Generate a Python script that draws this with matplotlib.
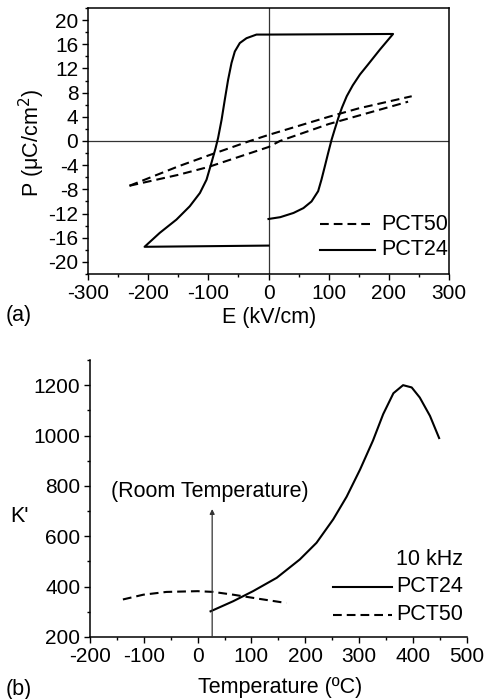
import matplotlib
matplotlib.use("Agg")
import matplotlib.pyplot as plt
from matplotlib.ticker import MultipleLocator

plt.rcParams['font.family'] = ['Liberation Sans', 'DejaVu Sans']
plt.rcParams['axes.unicode_minus'] = False

# ---- (a) hysteresis data ----
pct24_E = [0, 19.5, 41.6, 58, 71.5, 82.5, 88, 93.6, 99.1, 104.8, 110, 116, 122, 130, 140, 152, 165, 185, 207,
           0, -20, -36.6, -47.7, -56, -61.5, -67.2, -72.7, -78, -83.8, -88, -94.8, -103,
           -114, -130.9, -153, -180.8, -206, 0]
pct24_P = [-12.9, -12.6, -11.9, -11.1, -10.0, -8.3, -6.4, -4.2, -2.0, 0.2, 1.9, 3.8, 5.5, 7.4, 9.2, 11.0, 12.6, 15.1, 17.7,
           17.6, 17.6, 17.0, 16.2, 14.8, 12.9, 10.1, 6.8, 3.5, 0.5, -1.2, -3.6, -6.4,
           -8.6, -10.8, -13.0, -15.2, -17.5, -17.3]

pct50_up_E = [-231, -150, -100, -31, 0, 100, 150, 238]
pct50_up_P = [-7.4, -4.2, -2.4, 0.0, 1.0, 4.0, 5.4, 7.4]
pct50_lo_E = [-231, -150, -100, 0, 19, 100, 150, 232]
pct50_lo_P = [-7.4, -5.6, -4.3, -1.0, 0.0, 2.8, 4.2, 6.5]

# ---- (b) dielectric data ----
pct24_T = [24, 66, 103, 147, 190, 221, 252, 277, 302, 326, 345, 364, 382, 398, 413, 432, 449]
pct24_K = [302, 342, 382, 435, 508, 574, 667, 757, 865, 980, 1085, 1168, 1200, 1191, 1151, 1078, 990]
pct50_T = [-139, -101, -58, 0, 29, 66, 116, 165]
pct50_K = [349, 368, 379, 382, 379, 368, 351, 335]
room_T = 27

fig = plt.figure(figsize=(4.87, 6.99), dpi=100)
fs = 15
ft = 15.5
lw = 1.5
dash = (4.2, 2.4)

# ---------- top panel ----------
ax1 = fig.add_axes([0.1807, 0.608, 0.922 - 0.1807, 0.9886 - 0.608])
ax1.axhline(0, color='#333333', lw=0.9, zorder=1)
ax1.axvline(0, color='#333333', lw=0.9, zorder=1)
ax1.plot(pct50_up_E, pct50_up_P, color='black', lw=lw, dashes=dash)
ax1.plot(pct50_lo_E, pct50_lo_P, color='black', lw=lw, dashes=dash)
ax1.plot(pct24_E, pct24_P, color='black', lw=lw)
ax1.set_xlim(-300, 300)
ax1.set_ylim(-22, 22)
ax1.xaxis.set_major_locator(MultipleLocator(100))
ax1.xaxis.set_minor_locator(MultipleLocator(50))
ax1.yaxis.set_major_locator(MultipleLocator(4))
ax1.yaxis.set_minor_locator(MultipleLocator(2))
ax1.tick_params(which='both', direction='out', labelsize=fs, width=1)
ax1.tick_params(which='major', length=4)
ax1.tick_params(which='minor', length=2.5)
ax1.tick_params(axis='y', pad=3)
for s in ax1.spines.values():
    s.set_linewidth(1.1)
fig.text(269 / 487, 1 - 317 / 699, 'E (kV/cm)', fontsize=ft, ha='center', va='center')
fig.text(32 / 487, 1 - 143 / 699, 'P (\u03bcC/cm$^2$)', fontsize=ft, ha='center', va='center',
         rotation=90)
# legend drawn through data axes
ax1.plot([86, 177], [-13.8, -13.8], color='black', lw=lw, dashes=dash)
ax1.plot([86, 177], [-18, -18], color='black', lw=lw)
ax1.text(187, -13.8, 'PCT50', fontsize=ft, va='center', ha='left')
ax1.text(187, -18, 'PCT24', fontsize=ft, va='center', ha='left')
fig.text(6 / 487, 1 - 315 / 699, '(a)', fontsize=ft, va='center', ha='left')

# ---------- bottom panel ----------
ax2 = fig.add_axes([0.185, 0.0887, 0.958 - 0.185, 0.485 - 0.0887])
ax2.plot(pct24_T, pct24_K, color='black', lw=lw)
ax2.plot(pct50_T, pct50_K, color='black', lw=lw, dashes=dash)
ax2.annotate('', xy=(room_T, 708), xytext=(room_T, 200),
             arrowprops=dict(arrowstyle='-|>', color='#333333', lw=0.9,
                             mutation_scale=7, shrinkA=0, shrinkB=0))
ax2.text(23, 779, '(Room Temperature)', fontsize=ft, ha='center', va='center')
ax2.set_xlim(-200, 500)
ax2.set_ylim(200, 1300)
ax2.spines['top'].set_visible(False)
ax2.spines['right'].set_visible(False)
for s in ax2.spines.values():
    s.set_linewidth(1.1)
ax2.xaxis.set_major_locator(MultipleLocator(100))
ax2.xaxis.set_minor_locator(MultipleLocator(50))
ax2.yaxis.set_major_locator(MultipleLocator(200))
ax2.yaxis.set_minor_locator(MultipleLocator(100))
ax2.tick_params(which='both', direction='out', labelsize=fs, width=1)
ax2.tick_params(which='major', length=4)
ax2.tick_params(which='minor', length=2.5)
ax2.tick_params(axis='y', pad=3)
fig.text(280 / 487, 1 - 687 / 699, 'Temperature (\u00baC)', fontsize=ft, ha='center', va='center')
ax2.plot([252, 361], [399, 399], color='black', lw=lw)
ax2.plot([252, 361], [289, 289], color='black', lw=lw, dashes=dash)
ax2.text(493, 508, '10 kHz', fontsize=ft, ha='right', va='center')
ax2.text(370, 399, 'PCT24', fontsize=ft, ha='left', va='center')
ax2.text(370, 289, 'PCT50', fontsize=ft, ha='left', va='center')
fig.text(10 / 487, 1 - 517 / 699, "K'", fontsize=ft, va='center', ha='left')
fig.text(6 / 487, 1 - 690 / 699, '(b)', fontsize=ft, va='center', ha='left')

fig.savefig('out.png', dpi=100)
